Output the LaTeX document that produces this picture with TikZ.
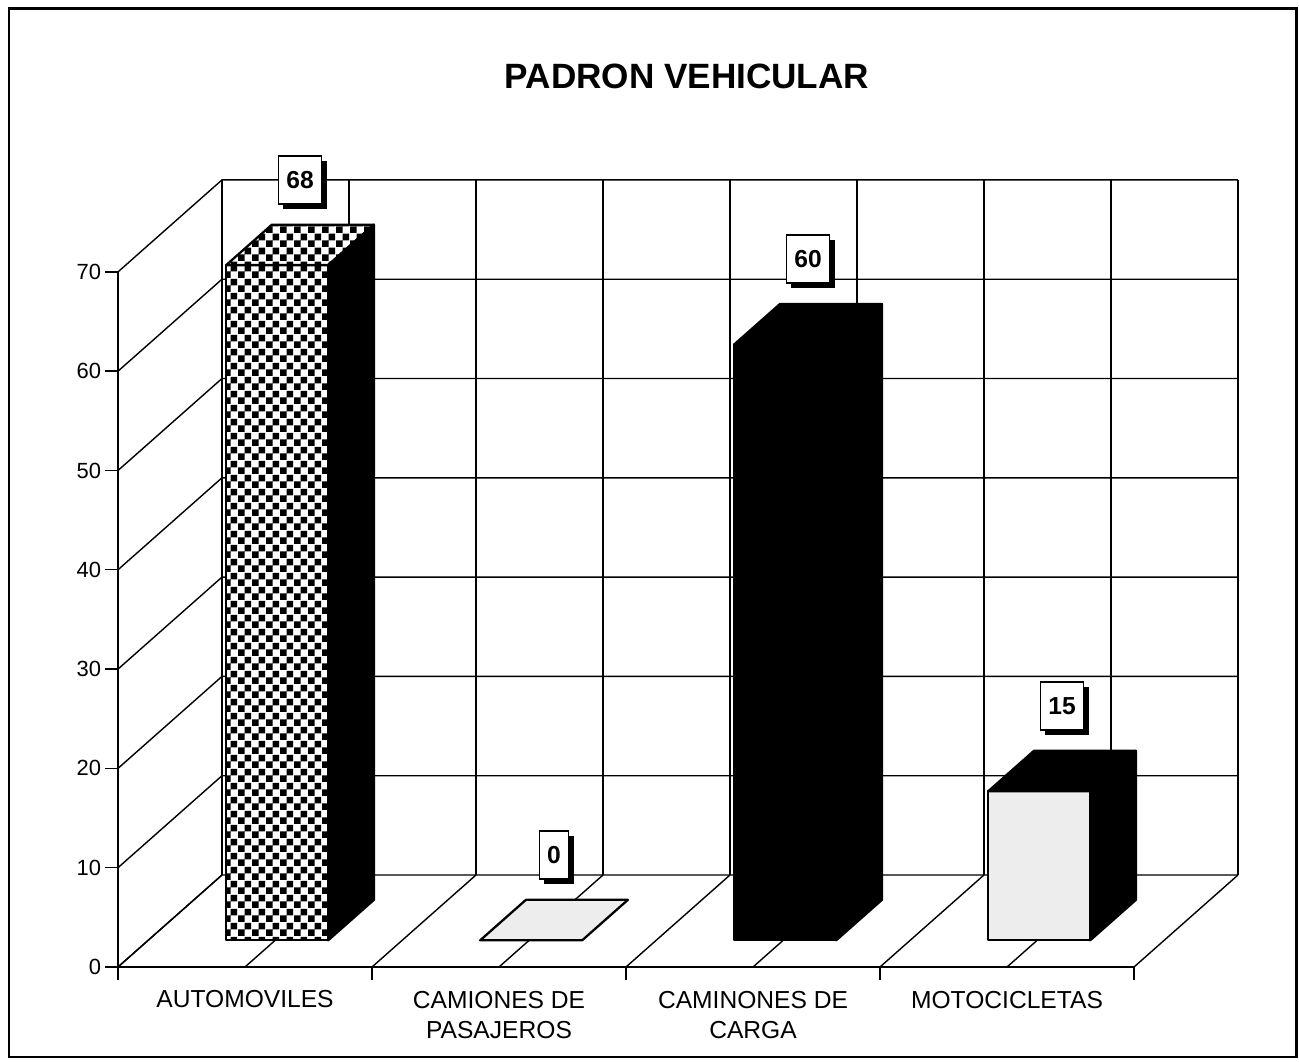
\documentclass[tikz,border=0pt]{standalone}
\usepackage{fontspec}
\setmainfont{Liberation Sans}
\usetikzlibrary{patterns,shadows}

\pgfdeclarepatternformonly{bigchecks}{\pgfpointorigin}{\pgfqpoint{8pt}{8pt}}{\pgfqpoint{8pt}{8pt}}{%
  \pgfpathrectangle{\pgfpointorigin}{\pgfqpoint{4pt}{4pt}}%
  \pgfpathrectangle{\pgfqpoint{4pt}{4pt}}{\pgfqpoint{4pt}{4pt}}%
  \pgfusepath{fill}}

\tikzset{
  gridline/.style={line width=0.8pt},
  barface/.style={draw, line width=1.3pt, line join=round},
  checkface/.style={barface, preaction={fill=white}, pattern=bigchecks},
  darkface/.style={barface, fill=black},
  lightface/.style={barface, fill=black!7},
  vallabel/.style={draw, fill=white, line width=0.8pt, inner xsep=4.5pt, minimum height=0.96cm,
    font=\fontsize{14}{16}\selectfont\bfseries,
    drop shadow={shadow xshift=0.1cm, shadow yshift=-0.1cm, fill=black, opacity=1}},
  ylab/.style={anchor=east, inner sep=2pt, font=\fontsize{12.5}{15}\selectfont},
  catlab/.style={anchor=north, inner sep=0pt, align=center, font=\fontsize{14}{17}\selectfont},
}

\begin{document}
\begin{tikzpicture}[x=0.02cm, y=0.02cm, z={(2.08cm,1.84cm)}]
\useasboundingbox (-118,-95) rectangle (1181,967);

% frame and title
\draw[line width=1.7pt] (-109,-90) rectangle (1178,958);
\node[font=\fontsize{20}{24}\selectfont\bfseries] (title) at (569,891) {PADRON VEHICULAR};

% walls and floor
\foreach \k in {0,...,8} {
  \draw[gridline] (\k*127,0,1) -- (\k*127,695,1);
  \draw[gridline] (\k*127,0,0) -- (\k*127,0,1);
}
\foreach \j [evaluate=\j as \lab using int(\j*10)] in {0,...,7} {
  \draw[gridline] (0,\j*99.3,0) -- (0,\j*99.3,1) -- (1016,\j*99.3,1);
  \draw[gridline] (-13,\j*99.3) -- (0,\j*99.3);
  \node[ylab] at (-13,\j*99.3) {\lab};
}
\draw[gridline] (0,-13) -- (0,695);
\draw[gridline] (0,0) -- (1016,0);
\foreach \k in {0,...,4}
  \draw[gridline] (\k*254,0) -- (\k*254,-13);

% AUTOMOVILES
\draw[checkface] (78,0,.29) -- (180,0,.29) -- (180,675.2,.29) -- (78,675.2,.29) -- cycle;
\draw[checkface] (78,675.2,.29) -- (180,675.2,.29) -- (180,675.2,.73) -- (78,675.2,.73) -- cycle;
\draw[darkface] (180,0,.29) -- (180,0,.73) -- (180,675.2,.73) -- (180,675.2,.29) -- cycle;
\node[vallabel] (lab68) at (129,740,.51) {68};

% CAMIONES DE PASAJEROS
\draw[lightface] (332,0,.29) -- (434,0,.29) -- (434,0,.73) -- (332,0,.73) -- cycle;
\node[vallabel] (lab0) at (383,65,.51) {0};

% CAMINONES DE CARGA
\draw[darkface] (586,0,.29) -- (688,0,.29) -- (688,595.8,.29) -- (586,595.8,.29) -- cycle;
\draw[darkface] (586,595.8,.29) -- (688,595.8,.29) -- (688,595.8,.73) -- (586,595.8,.73) -- cycle;
\draw[darkface] (688,0,.29) -- (688,0,.73) -- (688,595.8,.73) -- (688,595.8,.29) -- cycle;
\node[vallabel] (lab60) at (637,661,.51) {60};

% MOTOCICLETAS
\draw[lightface] (840,0,.29) -- (942,0,.29) -- (942,149,.29) -- (840,149,.29) -- cycle;
\draw[darkface] (840,149,.29) -- (942,149,.29) -- (942,149,.73) -- (840,149,.73) -- cycle;
\draw[darkface] (942,0,.29) -- (942,0,.73) -- (942,149,.73) -- (942,149,.29) -- cycle;
\node[vallabel] (lab15) at (891,214,.51) {15};

% category names
\node[catlab] (catauto) at (127,-23) {AUTOMOVILES};
\node[catlab] (catpas) at (381,-24) {CAMIONES DE\\PASAJEROS};
\node[catlab] (catcarga) at (635,-24) {CAMINONES DE\\CARGA};
\node[catlab] (catmoto) at (889,-24) {MOTOCICLETAS};
\end{tikzpicture}
\end{document}
